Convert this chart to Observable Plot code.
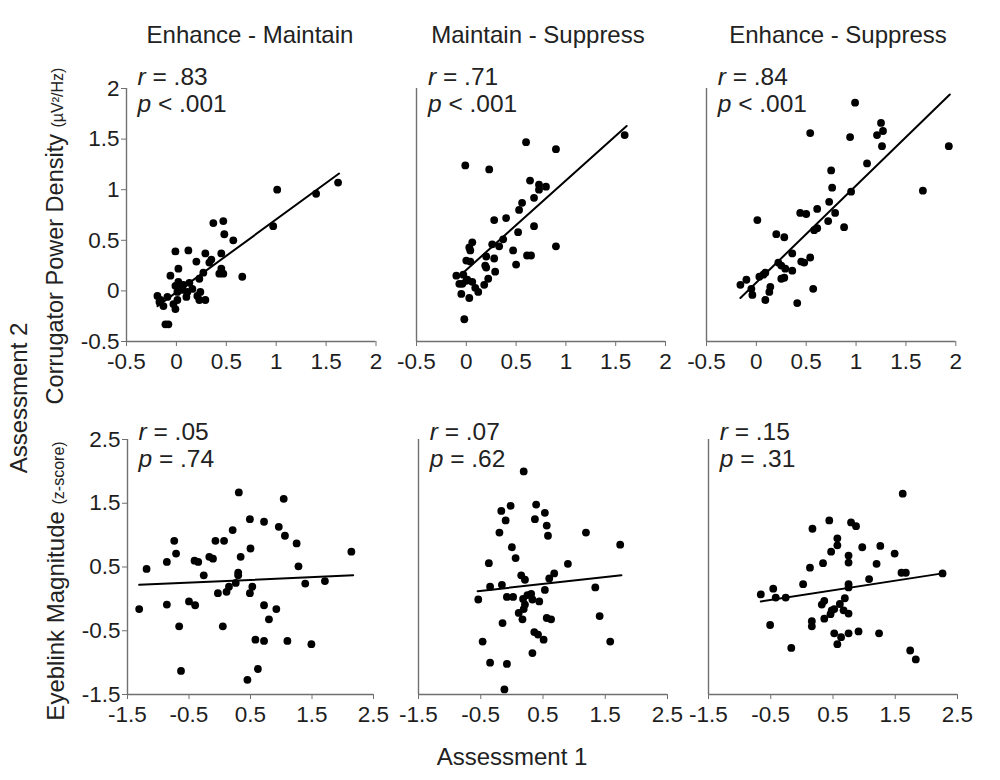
<!DOCTYPE html>
<html>
<head>
<meta charset="utf-8">
<script src="https://cdn.jsdelivr.net/npm/d3@7"></script>
<script src="https://cdn.jsdelivr.net/npm/@observablehq/plot@0.6"></script>
<style>
  body { margin: 0; background: #fff; }
  #root { position: relative; width: 1000px; height: 780px; overflow: hidden; background: #fff;
          font-family: "Liberation Sans", Arial, sans-serif; color: #222; }
  .abs { position: absolute; white-space: nowrap; }
  .panel { position: absolute; }
  .small { font-size: 16px; }
</style>
</head>
<body>
<div id="root"></div>
<script>
// ---------- data ----------
const titles = ["Enhance - Maintain", "Maintain - Suppress", "Enhance - Suppress"];
const topTicks = [-0.5, 0, 0.5, 1, 1.5, 2];
const bottomTicks = [-1.5, -0.5, 0.5, 1.5, 2.5];

// Corrugator power density (top row)
const corrEMx = [1.01,1.62,1.40,0.97,0.47,0.37,0.48,0.57,0.66,-0.01,0.12,0.02,0.20,0.29,0.35,0.33,0.45,0.45,0.43,0.47,-0.06,0.27,0.23,-0.01,0.02,0.07,0.13,0.06,0.11,0.16,0.24,0.21,0.10,0.23,0.29,0.01,0.01,0.03,-0.09,-0.19,-0.16,-0.13,-0.03,-0.01,-0.11,-0.08,-0.17];
const corrEMy = [1.00,1.07,0.96,0.64,0.69,0.67,0.56,0.50,0.14,0.39,0.40,0.22,0.29,0.37,0.31,0.28,0.37,0.22,0.17,0.17,0.15,0.18,0.12,0.05,0.09,0.06,0.08,0.01,-0.01,0.02,-0.01,-0.05,-0.06,-0.09,-0.09,-0.09,-0.01,0.04,-0.06,-0.05,-0.09,-0.15,-0.13,-0.18,-0.33,-0.33,-0.11];
const corrEMfitX = [-0.19, 1.63];
const corrEMfitY = [-0.15, 1.16];

const corrMSx = [1.59,0.60,0.90,-0.01,0.23,0.64,0.73,0.80,0.73,0.68,0.56,0.53,0.40,0.28,0.68,0.52,0.37,0.26,0.33,0.06,0.03,0.04,0.90,0.47,0.61,0.65,0.20,0.28,0.00,0.04,0.50,0.19,0.20,0.29,-0.10,-0.03,0.01,0.06,-0.07,-0.04,0.09,0.12,0.22,0.18,-0.05,0.03,-0.02,0.00];
const corrMSy = [1.54,1.47,1.40,1.24,1.20,1.09,1.05,1.03,1.00,0.92,0.87,0.80,0.72,0.70,0.64,0.58,0.51,0.46,0.44,0.48,0.43,0.40,0.44,0.40,0.35,0.35,0.34,0.32,0.30,0.29,0.26,0.25,0.23,0.19,0.15,0.16,0.11,0.09,0.07,0.07,0.03,-0.01,0.12,0.06,-0.03,-0.07,-0.28,0.10];
const corrMSfitX = [-0.02, 1.61];
const corrMSfitY = [0.19, 1.63];

const corrESx = [0.99,1.25,1.27,1.21,0.54,0.94,1.26,1.93,1.11,0.75,0.76,1.67,0.95,0.73,0.61,0.79,0.44,0.50,0.01,0.72,0.88,0.61,0.58,0.20,0.28,0.36,0.54,0.45,0.48,0.22,0.25,0.29,0.36,0.09,0.07,0.03,0.28,0.25,-0.10,-0.16,-0.05,0.14,0.13,-0.04,0.09,0.57,0.41];
const corrESy = [1.86,1.66,1.58,1.54,1.56,1.52,1.43,1.43,1.26,1.19,1.02,0.99,0.98,0.88,0.81,0.77,0.77,0.76,0.70,0.69,0.63,0.62,0.60,0.56,0.53,0.37,0.33,0.29,0.28,0.28,0.25,0.22,0.20,0.18,0.16,0.14,0.13,0.12,0.11,0.06,0.02,0.04,-0.01,-0.04,-0.09,0.02,-0.12];
const corrESfitX = [-0.16, 1.94];
const corrESfitY = [-0.07, 1.94];

// Eyeblink magnitude (bottom row)
const blinkEMx = [0.31,1.04,0.49,0.72,0.96,0.21,1.06,-0.74,-0.07,0.07,1.25,0.50,-0.71,2.14,-0.17,-0.11,0.34,-0.41,-0.35,-0.86,-1.19,1.28,0.30,0.30,-0.26,0.26,0.15,0.11,-0.03,0.53,0.49,1.39,1.71,-0.50,-0.40,-0.86,-1.31,0.72,0.92,0.80,-0.66,0.05,0.58,0.72,1.10,1.49,0.62,-0.63,0.45];
const blinkEMy = [1.67,1.57,1.25,1.21,1.13,1.08,0.99,0.91,0.91,0.91,0.87,0.79,0.71,0.74,0.66,0.63,0.66,0.60,0.58,0.58,0.47,0.51,0.41,0.37,0.37,0.25,0.19,0.11,0.09,0.19,0.09,0.24,0.28,-0.04,-0.10,-0.09,-0.16,-0.10,-0.16,-0.32,-0.43,-0.43,-0.64,-0.66,-0.66,-0.71,-1.10,-1.13,-1.27];
const blinkEMfitX = [-1.31, 2.17];
const blinkEMfitY = [0.22, 0.37];

const blinkMSx = [0.19,0.39,-0.02,-0.17,0.53,-0.10,0.37,0.56,-0.20,1.19,0.58,1.74,0.00,0.06,-0.37,0.90,0.68,0.15,0.21,0.60,-0.35,-0.16,0.53,1.34,-0.08,0.02,0.25,0.31,0.33,0.18,-0.54,0.44,0.21,0.19,0.11,0.56,0.63,0.17,1.41,-0.15,0.36,0.42,0.51,-0.47,1.58,0.33,-0.35,-0.08,-0.12];
const blinkMSy = [2.00,1.48,1.46,1.38,1.35,1.23,1.25,1.15,1.04,1.04,0.99,0.85,0.81,0.64,0.56,0.55,0.40,0.37,0.30,0.32,0.19,0.22,0.14,0.18,0.03,0.03,0.06,0.08,-0.01,0.00,-0.01,-0.04,-0.09,-0.16,-0.22,-0.30,-0.32,-0.32,-0.27,-0.38,-0.52,-0.56,-0.64,-0.67,-0.67,-0.85,-1.00,-1.02,-1.42];
const blinkMSfitX = [-0.55, 1.76];
const blinkMSfitY = [0.12, 0.37];

const blinkESx = [1.62,0.44,0.79,0.87,0.17,0.57,0.57,0.97,1.26,0.47,1.49,0.75,0.75,0.34,1.20,0.13,1.60,1.67,2.26,1.08,0.02,0.75,0.75,-0.46,-0.66,-0.42,-0.26,0.69,0.36,0.32,0.61,0.52,0.48,0.67,0.75,0.46,0.36,0.16,0.16,-0.51,0.52,0.91,1.24,0.75,0.63,0.57,-0.17,1.74,1.83];
const blinkESy = [1.65,1.23,1.20,1.14,1.10,0.95,0.84,0.81,0.83,0.74,0.71,0.68,0.57,0.56,0.55,0.49,0.41,0.41,0.40,0.31,0.23,0.23,0.18,0.16,0.07,0.02,0.02,0.01,-0.03,-0.09,-0.08,-0.16,-0.18,-0.18,-0.23,-0.24,-0.31,-0.35,-0.43,-0.41,-0.54,-0.51,-0.54,-0.54,-0.60,-0.71,-0.77,-0.81,-0.95];
const blinkESfitX = [-0.66, 2.26];
const blinkESfitY = [-0.04, 0.40];

const rValues = [".83", ".71", ".84", ".05", ".07", ".15"];
const pValues = ["< .001", "< .001", "< .001", "= .74", "= .62", "= .31"];

// ---------- layout ----------
const root = document.getElementById("root");
const FONT = '"Liberation Sans", Arial, sans-serif';
const AXIS = "#707070";

const rows = [
  { xDomain: [-0.5, 2], yDomain: [-0.5, 2], xTicks: topTicks, yTicks: topTicks,
    top: 88, innerH: 253, lefts: [125.5, 416, 705.7], innerW: [249.5, 249, 249.3],
    statsBase: 86 },
  { xDomain: [-1.5, 2.5], yDomain: [-1.5, 2.5], xTicks: bottomTicks, yTicks: bottomTicks,
    top: 439, innerH: 255, lefts: [126.5, 417.7, 707.7], innerW: [246, 249, 249],
    statsBase: 441 }
];

const panels = [
  [corrEMx, corrEMy, corrEMfitX, corrEMfitY],
  [corrMSx, corrMSy, corrMSfitX, corrMSfitY],
  [corrESx, corrESy, corrESfitX, corrESfitY],
  [blinkEMx, blinkEMy, blinkEMfitX, blinkEMfitY],
  [blinkMSx, blinkMSy, blinkMSfitX, blinkMSfitY],
  [blinkESx, blinkESy, blinkESfitX, blinkESfitY]
];

const ML = 70, MR = 20, MT = 20, MB = 50;
const fmt = d => String(d);
const TICKFS = 22.5;

panels.forEach(([xs, ys, fx, fy], i) => {
  const row = rows[Math.floor(i / 3)];
  const col = i % 3;
  const pts = xs.map((x, k) => ({ x, y: ys[k] }));
  const fit = fx.map((x, k) => ({ x, y: fy[k] }));
  const iw = row.innerW[col];
  const marks = [
    Plot.ruleX([row.xDomain[0]], { stroke: AXIS, strokeWidth: 1.4 }),
    Plot.ruleY([row.yDomain[0]], { stroke: AXIS, strokeWidth: 1.4 }),
    Plot.axisX(row.xTicks, { tickSize: 5, tickPadding: 7, fontSize: TICKFS, tickFormat: fmt,
      stroke: AXIS, color: "#1e1e1e", label: null }),
    Plot.dot(pts, { x: "x", y: "y", r: 3.9, fill: "#000", stroke: "none" }),
    Plot.line(fit, { x: "x", y: "y", stroke: "#000", strokeWidth: 2 })
  ];
  if (col === 0) {
    marks.push(Plot.axisY(row.yTicks, { tickSize: 5, tickPadding: 2, fontSize: TICKFS, tickFormat: fmt,
      stroke: AXIS, color: "#1e1e1e", label: null }));
  }
  const chart = Plot.plot({
    width: ML + iw + MR,
    height: MT + row.innerH + MB,
    marginLeft: ML, marginRight: MR, marginTop: MT, marginBottom: MB,
    x: { domain: row.xDomain, axis: null, label: null },
    y: { domain: row.yDomain, axis: null, label: null },
    style: { background: "transparent", overflow: "visible", fontFamily: FONT, maxWidth: "none", color: "#1e1e1e" },
    marks
  });
  const wrap = document.createElement("div");
  wrap.className = "panel";
  wrap.style.left = (row.lefts[col] - ML) + "px";
  wrap.style.top = (row.top - MT) + "px";
  wrap.appendChild(chart);
  root.appendChild(wrap);

  // r / p annotations
  const sx = row.lefts[col] + 12;
  const fs = 24.5;
  const mk = (html, base) => {
    const d = document.createElement("div");
    d.className = "abs";
    d.style.fontSize = fs + "px";
    d.style.lineHeight = fs + "px";
    d.style.left = sx + "px";
    d.style.top = (base - 0.847 * fs) + "px";
    d.innerHTML = html;
    root.appendChild(d);
  };
  mk(`<i>r</i> = ${rValues[i]}`, row.statsBase);
  mk(`<i>p</i> ${pValues[i]}`, row.statsBase + 27);
});

// column titles
const titleCenters = [250, 538, 838];
titles.forEach((t, i) => {
  const d = document.createElement("div");
  d.className = "abs";
  d.style.fontSize = "24px";
  d.style.lineHeight = "24px";
  d.style.left = titleCenters[i] + "px";
  d.style.top = (43 - 0.847 * 24) + "px";
  d.style.transform = "translateX(-50%)";
  d.textContent = t;
  root.appendChild(d);
});

// rotated y titles
function vlabel(html, cx, cy, size) {
  const d = document.createElement("div");
  d.className = "abs";
  d.style.fontSize = size + "px";
  d.style.lineHeight = size + "px";
  d.style.left = cx + "px";
  d.style.top = cy + "px";
  d.style.transform = "translate(-50%, -50%) rotate(-90deg)";
  d.innerHTML = html;
  root.appendChild(d);
}
vlabel('Corrugator Power Density <span class="small">(µV²/Hz)</span>', 57, 236, 23.5);
vlabel('Eyeblink Magnitude <span class="small">(z-score)</span>', 57, 581, 24);
vlabel('Assessment 2', 19, 398, 24);

// x title
const xt = document.createElement("div");
xt.className = "abs";
xt.style.fontSize = "24px";
xt.style.lineHeight = "24px";
xt.style.left = "512px";
xt.style.top = (765 - 0.847 * 24) + "px";
xt.style.transform = "translateX(-50%)";
xt.textContent = "Assessment 1";
root.appendChild(xt);
</script>
</body>
</html>
